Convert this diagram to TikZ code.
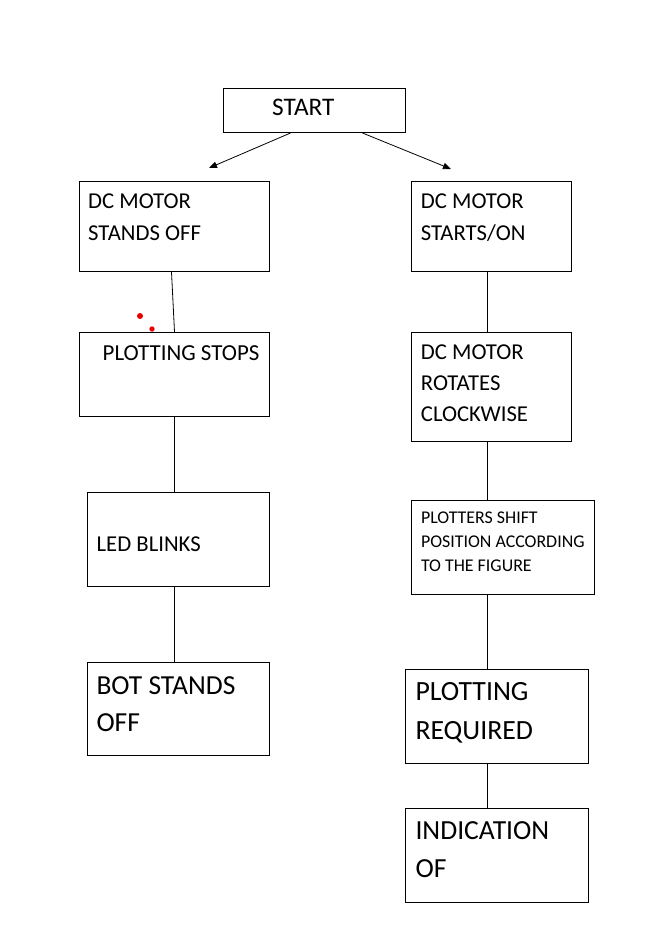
\documentclass[tikz,border=0pt]{standalone}
\usepackage{fontspec}
\setmainfont{Carlito}
\usetikzlibrary{arrows.meta}

\tikzset{
  box/.style={draw, line width=1pt, anchor=north west, inner sep=0pt},
  txt/.style={anchor=north west, inner sep=0pt, align=left},
  arr/.style={line width=0.8pt, -{Triangle[length=8pt,width=6.5pt]}},
  con/.style={line width=0.8pt},
}

\begin{document}
\begin{tikzpicture}[x=1pt, y=-1pt]
    \useasboundingbox (0,0) rectangle (667,938);
    % axes of the two columns
    \coordinate (axl) at (174,0);
    \coordinate (axr) at (487,0);
    \coordinate (tipl) at (209,168);
    \coordinate (tipr) at (451,169);

    \node[box, minimum width=182pt, minimum height=44pt,
      label={[txt, font=\fontsize{25.3}{30}\selectfont, xshift=49pt, yshift=-11pt]north west:START}] (start) at (223,88) {};

    % left column
    \node[box, minimum width=190pt, minimum height=90pt,
      label={[txt, font=\fontsize{22.7}{32}\selectfont, xshift=9pt, yshift=-12.7pt]north west:{DC MOTOR\\STANDS OFF}}] (l1) at (79,181) {};
    \node[box, minimum width=190pt, minimum height=84pt,
      label={[txt, font=\fontsize{22.9}{32}\selectfont, xshift=23.5pt, yshift=-13.7pt]north west:PLOTTING STOPS}] (l2) at (79,332) {};
    \node[box, minimum width=182pt, minimum height=94pt,
      label={[txt, font=\fontsize{22.7}{32}\selectfont, xshift=9.5pt, yshift=-44.7pt]north west:LED BLINKS}] (l3) at (87,492) {};
    \node[box, minimum width=182pt, minimum height=93pt,
      label={[txt, font=\fontsize{27.5}{37}\selectfont, xshift=9.3pt, yshift=-14pt]north west:{BOT STANDS\\OFF}}] (l4) at (87,662) {};

    % right column
    \node[box, minimum width=160pt, minimum height=90pt,
      label={[txt, font=\fontsize{22.7}{32}\selectfont, xshift=9.7pt, yshift=-12.7pt]north west:{DC MOTOR\\STARTS/ON}}] (r1) at (411,181) {};
    \node[box, minimum width=160pt, minimum height=109pt,
      label={[txt, font=\fontsize{22.7}{31}\selectfont, xshift=9.7pt, yshift=-12.7pt]north west:{DC MOTOR\\ROTATES\\CLOCKWISE}}] (r2) at (411,332) {};
    \node[box, minimum width=183pt, minimum height=94pt,
      label={[txt, font=\fontsize{17.9}{24}\selectfont, xshift=9.8pt, yshift=-11.3pt]north west:{PLOTTERS SHIFT\\POSITION ACCORDING\\TO THE FIGURE}}] (r3) at (411,500) {};
    \node[box, minimum width=183pt, minimum height=94pt,
      label={[txt, font=\fontsize{27.8}{39}\selectfont, xshift=10.3pt, yshift=-13pt]north west:{PLOTTING\\REQUIRED}}] (r4) at (405,669) {};
    \node[box, minimum width=183pt, minimum height=94pt,
      label={[txt, font=\fontsize{27.6}{38}\selectfont, xshift=10.3pt, yshift=-13pt]north west:{INDICATION\\OF}}] (r5) at (405,808) {};

    \draw[arr] ([xshift=-24pt]start.south) -- (tipl);
    \draw[arr] ([xshift=48pt]start.south) -- (tipr);

    \draw[con] ([xshift=-3pt]l1.south) -- (l2.north);
    \draw[con] (l2.south -| axl) -- (l3.north -| axl);
    \draw[con] (l3.south -| axl) -- (l4.north -| axl);

    \draw[con] (r1.south -| axr) -- (r2.north -| axr);
    \draw[con] (r2.south -| axr) -- (r3.north -| axr);
    \draw[con] (r3.south -| axr) -- (r4.north -| axr);
    \draw[con] (r4.south -| axr) -- (r5.north -| axr);

    % stray marks
    \fill[red!90!black] (140,316) circle (3pt);
    \fill[red!90!black] (152,329) circle (2.7pt);
\end{tikzpicture}
\end{document}
